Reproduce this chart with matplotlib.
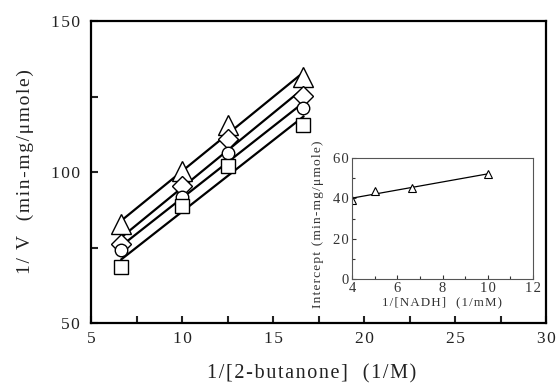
import numpy as np
import matplotlib
matplotlib.use("Agg")
import matplotlib.pyplot as plt
from matplotlib.ticker import MultipleLocator

plt.rcParams['font.family'] = ['Liberation Serif', 'DejaVu Serif']

# main plot data
inv_butanone = [6.67, 10.0, 12.5, 16.67]
triangles = [82.7, 100.3, 115.4, 131.3]
diamonds = [76.3, 95.5, 111.0, 125.2]
circles = [74.1, 91.7, 106.2, 121.1]
squares = [68.4, 88.7, 102.1, 115.7]

# inset data
inv_nadh = [4.0, 5.0, 6.67, 10.0]
intercepts = [39.0, 43.6, 45.2, 52.0]

x_ticks = [5, 10, 15, 20, 25, 30]
y_ticks = [50, 100, 150]
inset_x_ticks = [4, 6, 8, 10, 12]
inset_y_ticks = [0, 20, 40, 60]

HAIR = '\u200a'


def spaced(s, sep=HAIR):
    """fake letter spacing, the scanned figure has wide tracking"""
    return sep.join(s)


fig = plt.figure(figsize=(5.56, 3.86), dpi=100)
ax = fig.add_axes([91 / 556, 1 - 323 / 386, (546 - 91) / 556, (323 - 21) / 386])

series = [
    (triangles, '^', 14),
    (diamonds, 'D', 10),
    (circles, 'o', 9),
    (squares, 's', 10),
]
x = np.array(inv_butanone)
for vals, marker, ms in series:
    k, b = np.polyfit(x, vals, 1)
    ax.plot(x, k * x + b, color='black', lw=1.6, zorder=2)
    ax.plot(x, vals, linestyle='none', marker=marker, ms=ms,
            mfc='white', mec='black', mew=1.0, zorder=3)

ax.set_xlim(5, 30)
ax.set_ylim(50, 150)
ax.set_xticks(x_ticks)
ax.set_xticklabels([spaced(str(t)) for t in x_ticks])
ax.set_yticks(y_ticks)
ax.set_yticklabels([spaced(str(t)) for t in y_ticks])
ax.xaxis.set_minor_locator(MultipleLocator(2.5))
ax.yaxis.set_minor_locator(MultipleLocator(25))
ax.tick_params(which='both', direction='in', top=False, right=False,
               labelsize=12.5, colors='#222222')
ax.tick_params(axis='x', pad=6)
ax.tick_params(axis='y', pad=8)
ax.tick_params(which='both', length=5, width=1.5)
for s in ax.spines.values():
    s.set_linewidth(1.6)
ax.set_xlabel(spaced('1/[2-butanone]  (1/M)'), fontsize=14.5, color='#222222')
ax.xaxis.set_label_coords(0.484, -0.135)
ax.set_ylabel(spaced('1/ V  (min-mg/\u03bcmole)'), fontsize=14, color='#222222', labelpad=12)

# inset
ins = fig.add_axes([352 / 556, 1 - 279 / 386, (533 - 352) / 556, (279 - 158) / 386])
xi = np.array(inv_nadh)
k, b = np.polyfit(xi, intercepts, 1)
ins.plot(xi, k * xi + b, color='black', lw=0.9)
ins.plot(xi, intercepts, linestyle='none', marker='^', ms=6,
         mfc='white', mec='black', mew=0.8)
ins.set_xlim(4, 12)
ins.set_ylim(0, 60)
ins.set_xticks(inset_x_ticks)
ins.set_xticklabels([spaced(str(t)) for t in inset_x_ticks])
ins.set_yticks(inset_y_ticks)
ins.set_yticklabels([spaced(str(t)) for t in inset_y_ticks])
ins.xaxis.set_minor_locator(MultipleLocator(1))
ins.yaxis.set_minor_locator(MultipleLocator(10))
ins.tick_params(which='both', direction='in', top=False, right=False,
                labelsize=10.5, colors='#333333', pad=2)
ins.tick_params(which='major', length=3, width=0.8)
ins.tick_params(which='minor', length=2, width=0.8)
for s in ins.spines.values():
    s.set_linewidth(0.8)
    s.set_color('#555555')
ins.set_xlabel(spaced('1/[NADH]  (1/mM)'), fontsize=9.3, color='#333333', labelpad=1)
ins.set_ylabel(spaced('Intercept (min-mg/\u03bcmole)'), fontsize=9.7, color='#333333')
ins.yaxis.set_label_coords(-0.155, 0.45)

fig.savefig('out.png', dpi=100)
